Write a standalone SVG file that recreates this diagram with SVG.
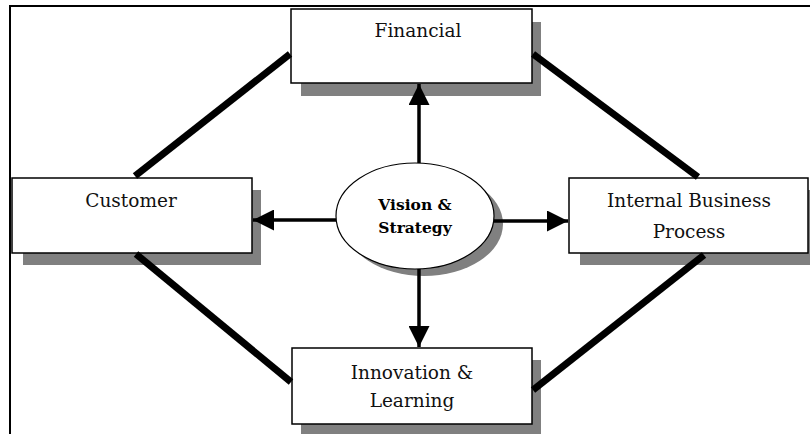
<svg xmlns="http://www.w3.org/2000/svg" width="810" height="434" viewBox="0 0 810 434">
<defs>
<style>
.box{fill:#fff;stroke:#000;stroke-width:1.5}
.shadow{fill:#808080}
.lbl{font-family:"DejaVu Serif","Liberation Serif",serif;font-size:18.5px;fill:#111;text-anchor:middle}
.blbl{font-family:"DejaVu Serif","Liberation Serif",serif;font-size:15.5px;font-weight:bold;fill:#000;text-anchor:middle}
.thick{stroke:#000;stroke-width:7;stroke-linecap:butt}
.arr{stroke:#000;stroke-width:3.5;fill:none}
</style>
<marker id="ah" viewBox="0 0 10 10" refX="10" refY="5" markerWidth="6.5" markerHeight="6" orient="auto" markerUnits="strokeWidth">
<path d="M0,0 L10,5 L0,10 z" fill="#000"/>
</marker>
</defs>
<rect width="810" height="434" fill="#fff"/>
<path d="M10,434 V6 H810" fill="none" stroke="#000" stroke-width="2"/>
<g id="financial">
<rect class="shadow" x="301" y="22" width="240" height="74"/>
<rect class="box" x="291" y="9" width="241" height="74"/>
<text class="lbl" x="418" y="37">Financial</text>
</g>
<g id="customer">
<rect class="shadow" x="23" y="190" width="238" height="75"/>
<rect class="box" x="12" y="178" width="240" height="75"/>
<text class="lbl" x="131" y="207">Customer</text>
</g>
<g id="internal">
<rect class="shadow" x="580" y="190" width="232" height="75"/>
<rect class="box" x="569" y="178" width="239" height="75"/>
<text class="lbl" x="689" y="207">Internal Business</text>
<text class="lbl" x="689" y="238">Process</text>
</g>
<g id="innovation">
<rect class="shadow" x="301" y="360" width="240" height="76"/>
<rect class="box" x="292" y="348" width="240" height="76"/>
<text class="lbl" x="412" y="379">Innovation &amp;</text>
<text class="lbl" x="412" y="407">Learning</text>
</g>
<g id="vision">
<ellipse class="shadow" cx="424" cy="224" rx="79" ry="52"/>
<ellipse cx="415" cy="216" rx="79" ry="53" fill="#fff" stroke="#000" stroke-width="1.2"/>
<text class="blbl" x="415" y="210">Vision &amp;</text>
<text class="blbl" x="415" y="233">Strategy</text>
</g>
<g id="connectors">
<line class="thick" x1="135" y1="176" x2="290" y2="54"/>
<line class="thick" x1="533" y1="54" x2="698" y2="177"/>
<line class="thick" x1="136" y1="254" x2="291" y2="382"/>
<line class="thick" x1="704" y1="255" x2="533" y2="390"/>
<line class="arr" x1="419" y1="163" x2="419" y2="84" marker-end="url(#ah)"/>
<line class="arr" x1="419" y1="269" x2="419" y2="347" marker-end="url(#ah)"/>
<line class="arr" x1="336" y1="220" x2="253" y2="220" marker-end="url(#ah)"/>
<line class="arr" x1="494" y1="221" x2="568" y2="221" marker-end="url(#ah)"/>
</g>
</svg>
